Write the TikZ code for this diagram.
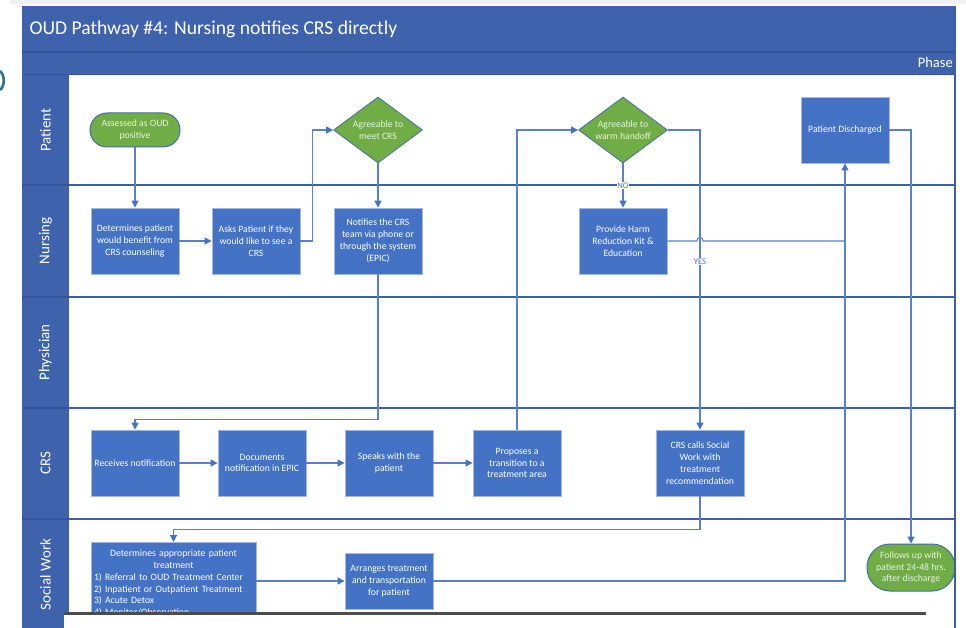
\documentclass[tikz,border=0pt]{standalone}
\usepackage{fontspec}
\setmainfont{Carlito}
\usetikzlibrary{shapes.geometric,arrows.meta,calc}

\definecolor{hdr}{HTML}{3E63AC}
\definecolor{hdrline}{HTML}{33549A}
\definecolor{lanecol}{HTML}{3D5FA6}
\definecolor{boxfill}{HTML}{4472C4}
\definecolor{boxedge}{HTML}{A3B8E2}
\definecolor{conn}{HTML}{5A80CC}
\definecolor{tipcol}{HTML}{4472C4}
\definecolor{termfill}{HTML}{70AD47}
\definecolor{termedge}{HTML}{41719C}
\definecolor{termtext}{HTML}{EAF3E2}
\definecolor{edgeteal}{HTML}{2A7090}

\tikzset{
  txt/.style={font=\fontsize{9.7}{11.8}\selectfont},
  proc/.style={txt, draw=boxedge, line width=0.8, fill=boxfill, text=white,
    minimum width=88, minimum height=66, inner sep=1, align=center},
  term/.style={txt, draw=termedge, line width=1, fill=termfill, text=termtext,
    align=center, inner sep=1},
  decision/.style={txt, diamond, draw=termedge, line width=0.8, fill=termfill,
    text=termtext, align=center, minimum width=89, minimum height=66,
    inner sep=0, aspect=1.35},
  flow/.style={draw=conn, line width=1.1, -{Triangle[length=7,width=7,color=tipcol]}},
  plain/.style={draw=conn, line width=1.1},
  tag/.style={font=\fontsize{8.6}{10}\selectfont, text=tipcol, fill=white, inner sep=0.6},
  lanelabel/.style={font=\fontsize{15}{17}\selectfont, text=white, rotate=90},
  laneline/.style={draw=lanecol, line width=1.4}
}

\begin{document}
\begin{tikzpicture}[x=1pt,y=-1pt]
\useasboundingbox (0,0) rectangle (966,628);
\fill[white] (0,0) rectangle (966,628);

% page edge shading at the top
\fill[black!6] (10,0) rectangle (966,4);
% fragment of a neighbouring glyph at the far left
\draw[edgeteal, line width=2.6] (0,71) .. controls (5,75) and (5,86) .. (0,90);

% title and phase bars
\fill[hdr] (22,6) rectangle (955,75);
\draw[hdrline, line width=1.2] (22,52) -- (955,52);
\draw[hdrline, line width=1] (22,75) -- (955,75);
\node[anchor=west, text=white, font=\fontsize{19.6}{22}\selectfont] (title) at (26,29)
  {OUD Pathway \#4: Nursing notifies CRS directly};
\node[anchor=east, text=white, font=\fontsize{14.5}{16}\selectfont, inner sep=0] (phase) at (953,63) {Phase};

% lane label column
\fill[hdr] (22,75) rectangle (69,640);
\foreach \yy in {185,297,408,519}{
  \draw[hdrline, line width=1.4] (22,\yy) -- (69,\yy);
  \draw[laneline] (69,\yy) -- (955,\yy);
}
\node[lanelabel] (lpatient) at (45.5,130) {Patient};
\node[lanelabel] (lnursing) at (45.5,241) {Nursing};
\node[lanelabel] (lphys) at (45.5,352.5) {Physician};
\node[lanelabel] (lcrs) at (45.5,463.5) {CRS};
\node[lanelabel] (lsw) at (45.5,574.5) {Social Work};

% Patient lane
\node[term, minimum width=90, minimum height=34, rounded corners=17] (assess) at (135,130)
  {Assessed as OUD\\positive};
\node[decision] (meet) at (378,130) {Agreeable to\\meet CRS};
\node[decision] (warm) at (623,130) {Agreeable to\\warm handoff};
\node[proc] (disch) at (845,130) {Patient Discharged};

% Nursing lane
\node[proc] (benefit) at (135,241) {Determines patient\\would benefit from\\CRS counseling};
\node[proc] (asks) at (256,241) {Asks Patient if they\\would like to see a\\CRS};
\node[proc] (notify) at (378,241) {Notifies the CRS\\team via phone or\\through the system\\(EPIC)};
\node[proc] (harm) at (623,241) {Provide Harm\\Reduction Kit \&\\Education};

% CRS lane
\node[proc] (recv) at (135,463) {Receives notification};
\node[proc] (docs) at (262,463) {Documents\\notification in EPIC};
\node[proc] (speaks) at (389,463) {Speaks with the\\patient};
\node[proc] (propose) at (517,463) {Proposes a\\transition to a\\treatment area};
\node[proc] (calls) at (700,463) {CRS calls Social\\Work with\\treatment\\recommendation};

% Social Work lane
\node[proc, anchor=north, minimum width=165, minimum height=0, text width=159,
  align=left, inner xsep=3, inner ysep=7.5] (sw) at (173.5,542)
  {\makebox[159pt][c]{Determines appropriate patient}\\
   \makebox[159pt][c]{treatment}\\
   1) Referral to OUD Treatment Center\\
   2) Inpatient or Outpatient Treatment\\
   3) Acute Detox\\
   4) Monitor/Observation};
\node[proc, minimum height=56] (arr) at (389,581) {Arranges treatment\\and transportation\\for patient};
\node[term, minimum width=88, minimum height=47, rounded corners=23] (follow) at (911,567.5)
  {Follows up with\\patient 24-48 hrs.\\after discharge};

% connectors
\draw[flow] (assess.south) -- (benefit.north);
\draw[flow] (benefit.east) -- (asks.west);
\draw[flow] (asks.east) -- ++(12,0) |- (meet.west);
\draw[flow] (meet.south) -- (notify.north);
\draw[flow] (notify.south) -- ++(0,145) -| (recv.north);
\draw[flow] (recv.east) -- (docs.west);
\draw[flow] (docs.east) -- (speaks.west);
\draw[flow] (speaks.east) -- (propose.west);
\draw[flow] (propose.north) |- (warm.west);
\draw[flow] (warm.south) -- node[tag, pos=0.5] (no) {NO} (harm.north);
\draw[flow] (warm.east) -| node[tag, pos=0.72] (yes) {YES} (calls.north);

\coordinate (hopL) at ($(harm.east -| calls.north)+(-3.2,0)$);
\coordinate (hopR) at ($(harm.east -| calls.north)+(3.2,0)$);
\coordinate (join) at (harm.east -| disch.south);
\draw[plain] (harm.east) -- (hopL) .. controls +(0,-4.6) and +(0,-4.6) .. (hopR) -- (join);
\draw[flow] (arr.east) -| (disch.south);
\draw[flow] (disch.east) -| (follow.north);
\draw[flow] (calls.south) -- ++(0,33) -| (sw.north);
\draw[flow] (sw.east |- arr.west) -- (arr.west);

% cut-off at the bottom
\fill[white] (64,612.5) rectangle (954,630);
\draw[black!70, line width=3] (64,613.8) -- (926,613.8);

% right frame edge
\draw[lanecol, line width=2] (955,6) -- (955,628);
\end{tikzpicture}
\end{document}
